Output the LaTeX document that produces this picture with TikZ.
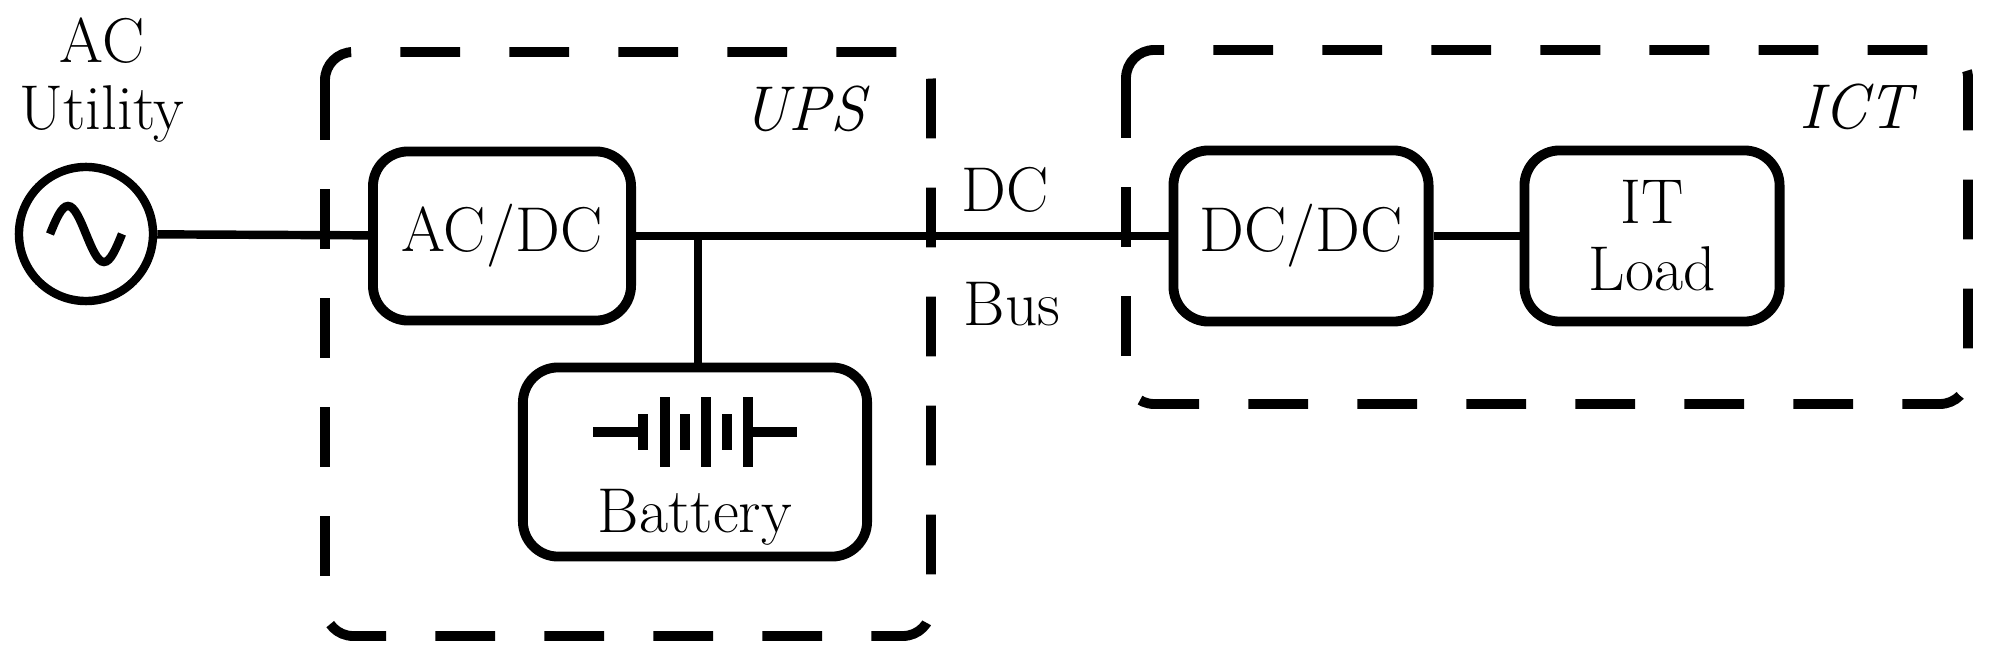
\documentclass[tikz,border=0pt]{standalone}
\begin{document}
\begin{tikzpicture}[x=0.01cm,y=-0.01cm,
  blk/.style={draw,line width=2.8pt,rounded corners=10pt,inner sep=0pt},
  grp/.style={draw,line width=2.8pt,rounded corners=8pt,dash pattern=on 17pt off 14pt},
  wire/.style={line width=2.4pt},
  lbl/.style={font=\fontsize{18}{21}\selectfont,align=center,inner sep=0pt}]
\useasboundingbox (0,0) rectangle (1989,655);
\draw[grp] (325,52) rectangle (931,636);
\draw[grp] (1126,50) rectangle (1968,404);
\node[lbl,font=\fontsize{18}{21}\selectfont\itshape] (ups) at (804,109) {UPS};
\node[lbl,font=\fontsize{18}{21}\selectfont\itshape] (ict) at (1856,107) {ICT};
\node[draw,circle,line width=2.4pt,minimum size=1.34cm,inner sep=0pt] (src) at (86,234) {};
\draw[line width=2.4pt] (50,234) sin (68,206) cos (86,234) sin (104,262) cos (122,234);
\node[lbl] (util) at (102,80) {AC\\[-2pt]Utility};
\node[blk,minimum width=2.58cm,minimum height=1.69cm] (acdc) at (502,236) {};
\node[lbl] at (acdc.center) {AC/DC};
\node[blk,minimum width=3.44cm,minimum height=1.89cm] (bat) at (695,462) {};
\node[lbl] (battxt) at (695,517) {Battery};
\node[blk,minimum width=2.55cm,minimum height=1.71cm] (dcdc) at (1301,236) {};
\node[lbl] at (dcdc.center) {DC/DC};
\node[blk,minimum width=2.55cm,minimum height=1.71cm] (it) at (1652,236) {};
\node[lbl] at (it.center) {IT\\[-2pt]Load};
\node[lbl] (dc) at (1005,190) {DC};
\node[lbl] (bus) at (1012,304) {Bus};
\coordinate (j) at (698,236);
\draw[wire] (src) -- (acdc);
\draw[wire] (acdc) -- (dcdc);
\draw[wire] (j) -- (j |- bat.north);
\draw[wire] (dcdc) -- (it);
% battery symbol
\begin{scope}[line width=2.6pt]
\draw (593,432) -- (643,432) (748,432) -- (797,432);
\draw (643,414) -- (643,450) (685,414) -- (685,450) (727,414) -- (727,450);
\draw (665,397) -- (665,467) (706,397) -- (706,467) (748,397) -- (748,467);
\end{scope}
\end{tikzpicture}
\end{document}
